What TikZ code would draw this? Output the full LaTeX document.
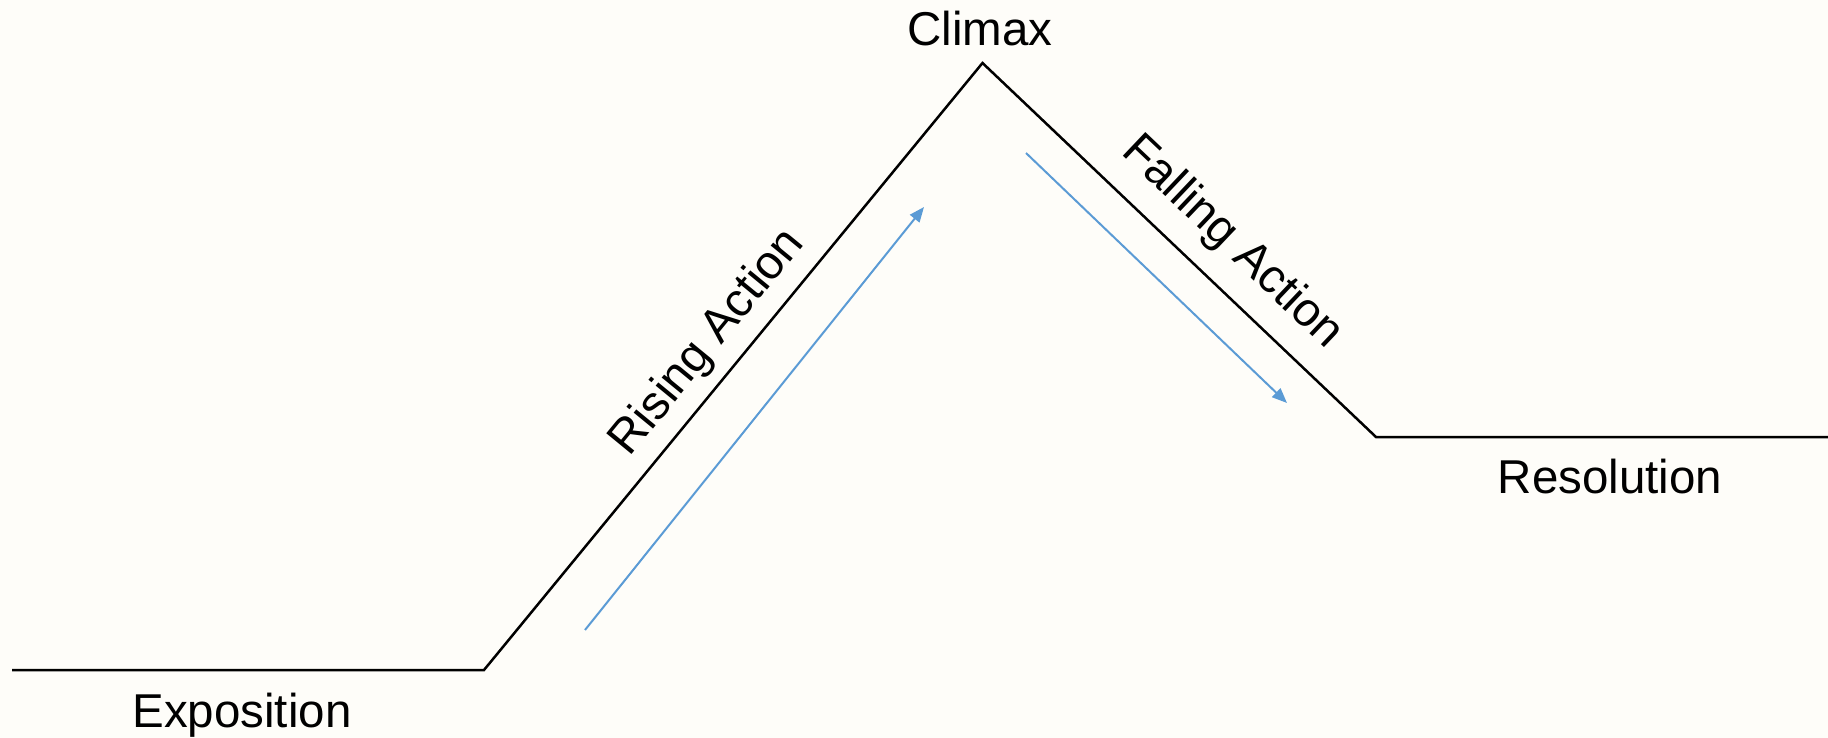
\documentclass[tikz,border=0pt]{standalone}
\usepackage{fontspec}
\setmainfont{Liberation Sans}
\usetikzlibrary{arrows.meta}
\definecolor{bgcol}{RGB}{254,253,249}
\definecolor{arrowblue}{RGB}{91,155,213}
\begin{document}
\begin{tikzpicture}[x=0.5pt,y=-0.5pt,
  plotline/.style={black, line width=1.25pt, line join=miter},
  flowarrow/.style={arrowblue, line width=1pt, -{Triangle[length=7.5pt,width=6pt]}},
  lbl/.style={inner sep=0pt, font=\fontsize{23.75}{28}\selectfont}]
\fill[bgcol] (0,0) rectangle (1828,738);
\useasboundingbox (0,0) rectangle (1828,738);
% plot path points
\coordinate (e0) at (12,670);
\coordinate (e1) at (484,670);
\coordinate (pk) at (982.5,63);
\coordinate (r0) at (1376,437);
\coordinate (r1) at (1828,437);
\draw[plotline] (e0) -- (e1) -- (pk) -- (r0) -- (r1);
% arrows
\coordinate (a1s) at (585,630);
\coordinate (a1e) at (924,207);
\coordinate (a2s) at (1026,153);
\coordinate (a2e) at (1287,403);
\draw[flowarrow] (a1s) -- (a1e);
\draw[flowarrow] (a2s) -- (a2e);
% labels
\node[lbl, anchor=base] (climax) at (980,46) {Climax};
\node[lbl, anchor=base] (expo) at (242,727) {Exposition};
\node[lbl, anchor=base] (reso) at (1610,493) {Resolution};
\node[lbl, anchor=center, rotate=50.63] (rising) at (708,343) {Rising Action};
\node[lbl, anchor=center, rotate=-43.5] (falling) at (1232,243) {Falling Action};
\end{tikzpicture}
\end{document}
